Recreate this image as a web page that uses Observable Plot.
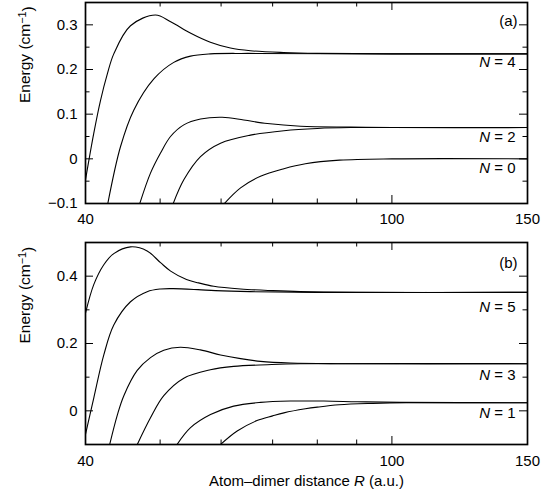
<!DOCTYPE html>
<html>
<head>
<meta charset="utf-8">
<script src="https://cdn.jsdelivr.net/npm/d3@7"></script>
<script src="https://cdn.jsdelivr.net/npm/@observablehq/plot@0.6"></script>
<style>
  html, body { margin: 0; padding: 0; background: #fff; }
  #chart svg { display: block; }
</style>
</head>
<body>
<div id="chart"></div>
<script>
// ---- data ----
const xLabels = [40, 100, 150];
const xMinorTicks = [50, 60, 70, 80, 90];
const xMajorTicks = [100];

// panel (a)
const yLabelsA = [-0.1, 0, 0.1, 0.2, 0.3];
const yMinorA = [-0.05, 0.05, 0.15, 0.25];
const curveA1 = [[40,-0.047],[41.0,0.057],[41.84,0.131],[42.7,0.19],[43.53,0.235],[45.76,0.298],[49.3,0.322],[51.6,0.307],[54.8,0.281],[58.1,0.261],[61.7,0.248],[65.5,0.242],[72.3,0.238],[80,0.236],[100,0.235],[150,0.235]];
const curveA2 = [[42.76,-0.1],[44.41,0.027],[46.21,0.109],[49.07,0.179],[52.08,0.216],[54.76,0.230],[58.1,0.235],[65,0.236],[100,0.235],[150,0.235]];
const curveA3 = [[47.05,-0.1],[48.58,-0.032],[50.06,0.013],[51.58,0.05],[53.67,0.076],[56.42,0.089],[60.2,0.093],[64.2,0.087],[68.9,0.079],[76.1,0.073],[88.4,0.071],[100,0.07],[150,0.07]];
const curveA4 = [[52.0,-0.1],[53.67,-0.047],[56.42,0.005],[59.9,0.035],[65.5,0.053],[72.4,0.063],[80,0.068],[88.4,0.070],[100,0.07],[150,0.07]];
const curveA5 = [[60.6,-0.1],[63.6,-0.065],[67.5,-0.039],[72.4,-0.022],[77.2,-0.011],[85.5,-0.003],[100,0],[150,0]];
const stateLabelsA = ["N = 4", "N = 2", "N = 0"];
const stateLabelYA = [0.2156, 0.049, -0.02];
const panelLabelA = "(a)";
const panelLabelYA = 0.309;

// panel (b)
const yLabelsB = [0, 0.2, 0.4];
const yMinorB = [0.1, 0.3];
const curveB1 = [[40,0.29],[41.0,0.375],[42.25,0.434],[43.53,0.467],[45.76,0.487],[48.1,0.475],[50.06,0.44],[51.6,0.415],[54.1,0.39],[56.1,0.38],[58.7,0.37],[63.6,0.362],[70,0.357],[76,0.354],[90,0.352],[150,0.352]];
const curveB2 = [[40,-0.07],[41.0,0.038],[42.25,0.166],[43.53,0.255],[45.76,0.324],[48.1,0.354],[50.06,0.362],[52,0.363],[56,0.360],[59,0.357],[65.5,0.354],[80,0.352],[150,0.352]];
const curveB3 = [[43.0,-0.1],[44.0,-0.012],[44.86,0.045],[46.69,0.12],[48.58,0.158],[50.55,0.18],[53.1,0.189],[56.4,0.181],[59.9,0.166],[63.6,0.155],[67.5,0.147],[73.8,0.142],[85,0.14],[150,0.14]];
const curveB4 = [[46.7,-0.1],[48.6,-0.02],[50.55,0.045],[53.67,0.097],[58.1,0.122],[62.3,0.132],[68.9,0.137],[76.1,0.14],[150,0.14]];
const curveB5 = [[52.6,-0.1],[54.76,-0.05],[58.13,-0.011],[62.3,0.014],[67.5,0.025],[73.8,0.029],[81.6,0.029],[90.1,0.027],[102.6,0.025],[150,0.024]];
const curveB6 = [[59.9,-0.1],[62.96,-0.06],[66.8,-0.029],[70.0,-0.015],[72.4,-0.006],[77.2,0.006],[80,0.011],[85.4,0.018],[94.4,0.022],[105,0.024],[150,0.024]];
const stateLabelsB = ["N = 5", "N = 3", "N = 1"];
const stateLabelYB = [0.307, 0.106, -0.007];
const panelLabelB = "(b)";
const panelLabelYB = 0.44;

const yTitle = "Energy (cm−1)";
const xTitle = "Atom–dimer distance R (a.u.)";

// ---- drawing ----
const W = 544, ML = 85, MR = 17;
const innerW = W - ML - MR;
const font = "'Liberation Sans', Arial, Helvetica, sans-serif";
const FS = 15;

function panel({height, marginTop, marginBottom, yDomain, yLabels, yMinor, curves,
                stateLabels, stateLabelY, panelLabel, panelLabelY, tickPad, withXTitle}) {
  const innerH = height - marginTop - marginBottom;
  const majLen = 8, minLen = 4.5;
  const marks = [
    // inward ticks: left / right
    Plot.ruleY(yLabels, {y: d => d, insetRight: innerW - majLen, stroke: "black", strokeWidth: 1}),
    Plot.ruleY(yMinor, {y: d => d, insetRight: innerW - minLen, stroke: "black", strokeWidth: 1}),
    Plot.ruleY(yLabels, {y: d => d, insetLeft: innerW - majLen, stroke: "black", strokeWidth: 1}),
    Plot.ruleY(yMinor, {y: d => d, insetLeft: innerW - minLen, stroke: "black", strokeWidth: 1}),
    // inward ticks: bottom / top
    Plot.ruleX(xMajorTicks, {x: d => d, insetTop: innerH - majLen, stroke: "black", strokeWidth: 1}),
    Plot.ruleX(xMinorTicks, {x: d => d, insetTop: innerH - minLen, stroke: "black", strokeWidth: 1}),
    Plot.ruleX(xMajorTicks, {x: d => d, insetBottom: innerH - majLen, stroke: "black", strokeWidth: 1}),
    Plot.ruleX(xMinorTicks, {x: d => d, insetBottom: innerH - minLen, stroke: "black", strokeWidth: 1}),
    ...curves.map(c => Plot.line(c, {x: d => d[0], y: d => d[1], curve: "catmull-rom",
                                    stroke: "black", strokeWidth: 1.1, clip: true})),
    Plot.frame({stroke: "black", strokeWidth: 1.7}),
    Plot.axisX({ticks: xLabels, tickSize: 0, tickPadding: tickPad, tickFormat: d => String(d), label: null, fontSize: FS}),
    Plot.axisY({ticks: yLabels, tickSize: 0, tickPadding: 8, label: null, fontSize: FS,
                tickFormat: d => (d < 0 ? "−" : "") + String(Math.abs(d))}),
    Plot.text(stateLabels, {x: 150, y: (d, i) => stateLabelY[i], text: d => d, textAnchor: "end", dx: -12, fontSize: FS}),
    Plot.text([panelLabel], {x: 150, y: panelLabelY, text: d => d, textAnchor: "end", dx: -10, fontSize: FS}),
    Plot.text([yTitle], {frameAnchor: "left", rotate: -90, dx: -60, text: d => d, fontSize: 15.5})
  ];
  if (withXTitle) marks.push(Plot.text([xTitle], {frameAnchor: "bottom", dy: 41, text: d => d, fontSize: 15}));
  return Plot.plot({
    width: W, height, marginLeft: ML, marginRight: MR, marginTop, marginBottom,
    style: {fontFamily: font, background: "white", color: "black", overflow: "visible"},
    x: {type: "log", domain: [40, 150]},
    y: {domain: yDomain},
    marks
  });
}

const svgA = panel({height: 230, marginTop: 2, marginBottom: 27, yDomain: [-0.1, 0.35],
  yLabels: yLabelsA, yMinor: yMinorA, curves: [curveA1, curveA2, curveA3, curveA4, curveA5],
  stateLabels: stateLabelsA, stateLabelY: stateLabelYA, panelLabel: panelLabelA, panelLabelY: panelLabelYA,
  tickPad: 10, withXTitle: false});
const svgB = panel({height: 267, marginTop: 12, marginBottom: 53, yDomain: [-0.1, 0.5],
  yLabels: yLabelsB, yMinor: yMinorB, curves: [curveB1, curveB2, curveB3, curveB4, curveB5, curveB6],
  stateLabels: stateLabelsB, stateLabelY: stateLabelYB, panelLabel: panelLabelB, panelLabelY: panelLabelYB,
  tickPad: 11, withXTitle: true});

const root = document.getElementById("chart");
root.append(svgA, svgB);

// rich text: italic N / R and superscript −1
root.querySelectorAll("text").forEach(t => {
  const s = t.textContent;
  if (/^N = \d$/.test(s)) {
    t.innerHTML = `<tspan font-style="italic">N</tspan> = ${s.slice(4)}`;
  } else if (s === yTitle) {
    t.innerHTML = `Energy (cm<tspan dy="-0.45em" font-size="0.7em">−1</tspan><tspan dy="0.45em">)</tspan>`;
  } else if (s === xTitle) {
    t.innerHTML = `Atom–dimer distance <tspan font-style="italic">R</tspan> (a.u.)`;
  }
});
</script>
</body>
</html>
